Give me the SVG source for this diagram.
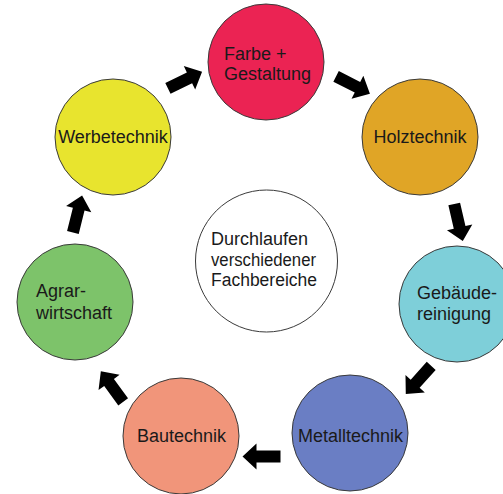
<svg xmlns="http://www.w3.org/2000/svg" width="503" height="494" viewBox="0 0 503 494">
<style>
.n{stroke:#3a3a3a;stroke-width:1}
.t{font-family:"Liberation Sans",Arial,sans-serif;font-size:18px;fill:#1a1a1a}
.c{text-anchor:middle}
.a{fill:#000}
</style>
<defs>
<path id="arr" d="M-19,-6 L5,-6 L5,-13 L19,0 L5,13 L5,6 L-19,6 Z"/>
</defs>
<rect width="503" height="494" fill="#fff"/>
<g id="connectors">
<use href="#arr" class="a" transform="translate(185,80) rotate(-26)"/>
<use href="#arr" class="a" transform="translate(353,85) rotate(27)"/>
<use href="#arr" class="a" transform="translate(458.5,222.5) rotate(77)"/>
<use href="#arr" class="a" transform="translate(418.5,380) rotate(132)"/>
<use href="#arr" class="a" transform="translate(261.5,456.5) rotate(180)"/>
<use href="#arr" class="a" transform="translate(112,386.5) rotate(234)"/>
<use href="#arr" class="a" transform="translate(77.5,214) rotate(-76)"/>
</g>
<g id="farbe">
<circle class="n" cx="266" cy="62" r="58" fill="#EB2353"/>
<text class="t" x="224" y="60">Farbe +</text>
<text class="t" x="224" y="80">Gestaltung</text>
</g>
<g id="holz">
<circle class="n" cx="420" cy="137" r="58" fill="#E0A526"/>
<text class="t c" x="420" y="143">Holztechnik</text>
</g>
<g id="gebaeude">
<circle class="n" cx="457" cy="304" r="58" fill="#7ECFD9"/>
<text class="t" x="417" y="299">Gebäude-</text>
<text class="t" x="417" y="320">reinigung</text>
</g>
<g id="metall">
<circle class="n" cx="350" cy="433" r="58" fill="#6A7EC4"/>
<text class="t c" x="350.5" y="442">Metalltechnik</text>
</g>
<g id="bau">
<circle class="n" cx="181" cy="436" r="58" fill="#F1957A"/>
<text class="t c" x="181.5" y="442">Bautechnik</text>
</g>
<g id="agrar">
<circle class="n" cx="75" cy="302" r="58" fill="#7DC36A"/>
<text class="t" x="36" y="297">Agrar-</text>
<text class="t" x="36" y="319">wirtschaft</text>
</g>
<g id="werbe">
<circle class="n" cx="113" cy="137" r="58" fill="#E8E42E"/>
<text class="t c" x="113" y="143">Werbetechnik</text>
</g>
<g id="center">
<circle class="n" cx="266.5" cy="261" r="71" fill="#fff"/>
<text class="t" x="211" y="245">Durchlaufen</text>
<text class="t" x="211" y="266" textLength="105" lengthAdjust="spacingAndGlyphs">verschiedener</text>
<text class="t" x="211" y="286" textLength="106" lengthAdjust="spacingAndGlyphs">Fachbereiche</text>
</g>
</svg>
